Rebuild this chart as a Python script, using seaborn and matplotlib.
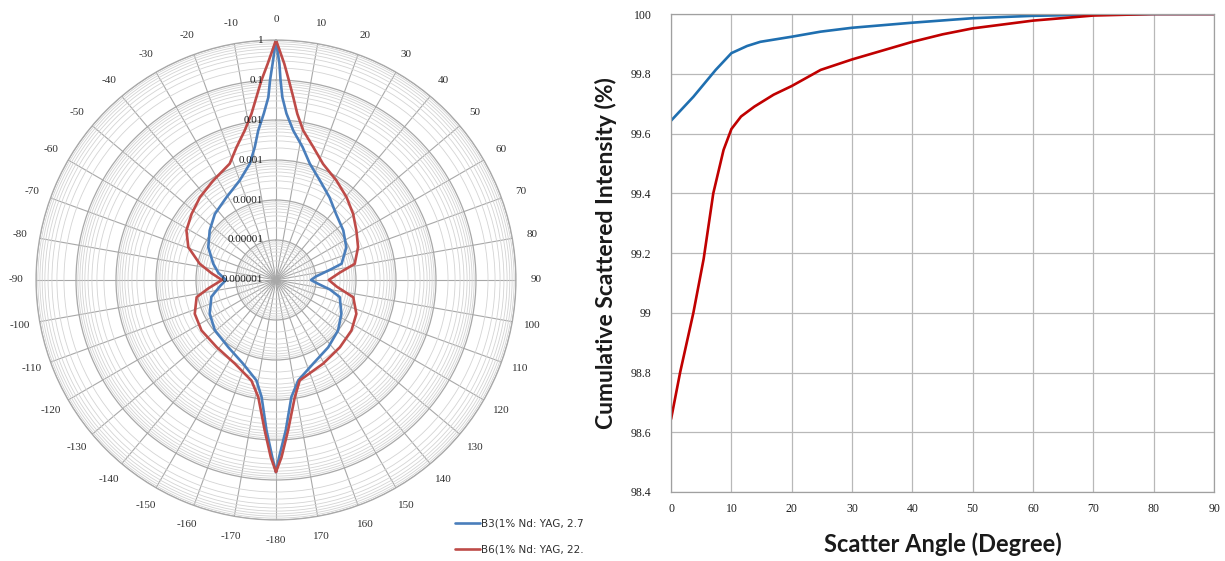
import numpy as np
import pandas as pd
import matplotlib
matplotlib.use("Agg")
import matplotlib.pyplot as plt
from matplotlib.lines import Line2D
from matplotlib.ticker import LogLocator, FixedLocator, NullFormatter
import seaborn as sns

# ---------------- angular scattering profiles (log10 of relative intensity) ----------------
b3_angle = [-180, -178.8, -176.4, -173, -169, -158.6, -144.6, -129.5, -117, -104.6, -96, -90,
            -83, -75.5, -64.2, -53.2, -42.8, -30.9, -20, -12.7, -9.1, -6.8, -4.2, -2.4, -1.7, -0.9, 0,
            0.9, 1.3, 2.0, 3.6, 6.6, 11.3, 16.2, 23.8, 33, 42.4, 53.6, 65, 76.1, 79, 85, 90,
            95, 100, 105, 117.3, 129.1, 142.2, 156.1, 167.5, 172.5, 176.3, 179, 180]
b3_log10 = [-1.20, -1.57, -2.23, -3.05, -3.44, -3.75, -3.94, -4.02, -4.14, -4.33, -4.60, -4.75,
            -4.55, -4.38, -4.12, -3.93, -3.75, -3.59, -3.35, -3.02, -2.64, -2.24, -1.83, -1.43, -1.00, -0.59, 0.0,
            -0.59, -1.00, -1.43, -1.83, -2.24, -2.61, -2.97, -3.28, -3.54, -3.77, -3.91, -4.06, -4.31, -4.60, -5.00, -5.125,
            -4.95, -4.63, -4.35, -4.16, -4.00, -3.87, -3.71, -3.43, -3.05, -2.23, -1.57, -1.20]

b6_angle = [-180, -178.3, -175.7, -171.4, -166.3, -153.8, -138.5, -124.1, -112.6, -102.2, -97, -90,
            -84, -78, -69.5, -61, -51.9, -42.6, -32.3, -21.7, -16.6, -11.8, -8.4, -6.1, -4.2, -2.2, 0,
            2.2, 3.7, 5.4, 7.3, 10.3, 15.7, 22.1, 31.3, 40.4, 49.4, 58.4, 68.2, 78.4, 83.5, 90,
            96.3, 102.6, 112.8, 123.8, 136.5, 150.6, 166.7, 170.9, 175.4, 178.2, 180]
b6_log10 = [-1.20, -1.57, -2.23, -3.04, -3.41, -3.67, -3.76, -3.75, -3.80, -3.97, -4.30, -4.65,
            -4.38, -4.05, -3.66, -3.44, -3.32, -3.19, -3.06, -2.87, -2.54, -2.18, -1.80, -1.40, -1.00, -0.59, 0.0,
            -0.59, -1.00, -1.41, -1.81, -2.20, -2.55, -2.87, -3.09, -3.28, -3.46, -3.64, -3.79, -3.99, -4.40, -4.68,
            -4.47, -4.02, -3.82, -3.73, -3.68, -3.60, -3.42, -3.03, -2.23, -1.57, -1.20]

r_ticks = [1e-6, 1e-5, 1e-4, 1e-3, 1e-2, 1e-1, 1]
r_tick_labels = ["0.000001", "0.00001", "0.0001", "0.001", "0.01", "0.1", "1"]
legend_labels = ["B3(1% Nd: YAG, 2.7", "B6(1% Nd: YAG, 22."]

# ---------------- cumulative scattered intensity ----------------
b3_cum_angle = [0, 3.7, 7.4, 10, 12.6, 14.8, 20, 24.8, 30, 40, 50, 60, 70, 80, 90]
b3_cum_pct = [99.643, 99.723, 99.813, 99.869, 99.893, 99.907, 99.924, 99.941, 99.954,
              99.971, 99.986, 99.994, 99.998, 100.0, 100.0]
b6_cum_angle = [0, 1.5, 3.7, 5.4, 7.0, 8.7, 10, 11.6, 13.8, 17, 20, 24.8, 30, 40, 45, 50, 60, 70, 80, 90]
b6_cum_pct = [98.644, 98.80, 99.00, 99.18, 99.40, 99.545, 99.615, 99.657, 99.69, 99.73, 99.759,
              99.813, 99.848, 99.907, 99.932, 99.952, 99.978, 99.995, 100.0, 100.0]

x_ticks = list(range(0, 100, 10))
y_ticks = [98.4, 98.6, 98.8, 99.0, 99.2, 99.4, 99.6, 99.8, 100.0]

sns.set_theme(style="white")
plt.rcParams["font.family"] = ["DejaVu Sans"]

polar_blue = "#4a7ebb"
polar_red = "#be4b48"
cum_blue = "#1f6fb0"
cum_red = "#c00000"
grid_major = "#a8a8a8"
grid_minor = "#d4d4d4"
label_font = dict(family="Liberation Serif", size=8, color="#303030")

fig = plt.figure(figsize=(12.25, 5.61), dpi=100)

# ---------------- polar panel ----------------
axp = fig.add_axes([0.0294, 0.0731, 0.3918, 0.8556], projection="polar")
axp.set_theta_zero_location("N")
axp.set_theta_direction(-1)
axp.set_rscale("log")
axp.set_rlim(1e-6, 1)

polar_df = pd.concat([
    pd.DataFrame({"theta": np.deg2rad(b3_angle), "r": np.power(10.0, b3_log10), "series": legend_labels[0]}),
    pd.DataFrame({"theta": np.deg2rad(b6_angle), "r": np.power(10.0, b6_log10), "series": legend_labels[1]}),
])
sns.lineplot(data=polar_df, x="theta", y="r", hue="series", sort=False, estimator=None,
             palette=[polar_blue, polar_red], linewidth=1.9, ax=axp, legend=False)
for ln in axp.get_lines():
    ln.set_solid_joinstyle("round")
axp.set_xlabel("")
axp.set_ylabel("")

axp.yaxis.set_major_locator(FixedLocator(r_ticks))
axp.yaxis.set_minor_locator(LogLocator(base=10, subs=np.arange(2, 10)))
axp.yaxis.set_major_formatter(NullFormatter())
axp.yaxis.set_minor_formatter(NullFormatter())
axp.grid(True, which="major", axis="y", color=grid_major, linewidth=0.9)
axp.grid(True, which="minor", axis="y", color=grid_minor, linewidth=0.6)
axp.grid(True, which="major", axis="x", color=grid_major, linewidth=0.8)

theta_deg = np.arange(0, 360, 10)
theta_lbl = [str(d if d < 180 else d - 360) for d in theta_deg]
axp.set_thetagrids(theta_deg, theta_lbl)
for t in axp.get_xticklabels():
    t.set_fontfamily(label_font["family"])
    t.set_fontsize(label_font["size"])
    t.set_color(label_font["color"])
axp.tick_params(axis="x", pad=1.5)
axp.spines["polar"].set_color(grid_major)
axp.spines["polar"].set_linewidth(0.9)

for v, lab in zip(r_ticks, r_tick_labels):
    axp.annotate(lab, xy=(0, v), xytext=(-9, 0), textcoords="offset points",
                 ha="right", va="center", fontfamily=label_font["family"],
                 fontsize=label_font["size"], color="#202020")

handles = [Line2D([], [], color=polar_blue, lw=1.9), Line2D([], [], color=polar_red, lw=1.9)]
fig.legend(handles, legend_labels, loc="lower left", bbox_to_anchor=(0.366, 0.0),
           frameon=False, fontsize=7.5, handlelength=2.4, handletextpad=0.15,
           labelspacing=1.55, borderaxespad=0.2, labelcolor="#303030")

# ---------------- cumulative panel ----------------
axc = fig.add_axes([0.5478, 0.123, 0.4433, 0.852])
cum_df = pd.concat([
    pd.DataFrame({"angle": b3_cum_angle, "pct": b3_cum_pct, "series": "B3"}),
    pd.DataFrame({"angle": b6_cum_angle, "pct": b6_cum_pct, "series": "B6"}),
])
sns.lineplot(data=cum_df, x="angle", y="pct", hue="series", palette=[cum_blue, cum_red],
             linewidth=1.9, ax=axc, legend=False)
for ln in axc.get_lines():
    ln.set_solid_joinstyle("round")
axc.set_xlim(0, 90)
axc.set_ylim(98.4, 100)
axc.set_xticks(x_ticks)
axc.set_yticks(y_ticks)
axc.set_yticklabels([f"{v:g}" for v in y_ticks])
axc.grid(True, color="#b8b8b8", linewidth=0.9)
for s in axc.spines.values():
    s.set_color("#a0a0a0")
    s.set_linewidth(0.9)
axc.tick_params(axis="y", length=0, pad=14)
axc.tick_params(axis="x", length=0, pad=8)
for t in axc.get_xticklabels() + axc.get_yticklabels():
    t.set_fontfamily("Liberation Serif")
    t.set_fontsize(8.5)
    t.set_color("#202020")
axc.set_xlabel("Scatter Angle (Degree)", fontfamily="Lato", fontweight="bold",
               fontsize=17, color="#1a1a1a")
axc.set_ylabel("Cumulative Scattered Intensity (%)", fontfamily="Lato", fontweight="bold",
               fontsize=16.5, color="#1a1a1a")
axc.xaxis.set_label_coords(0.5, -0.085)
axc.yaxis.set_label_coords(-0.1, 0.5)

fig.savefig("out.png", dpi=100, facecolor="white")
